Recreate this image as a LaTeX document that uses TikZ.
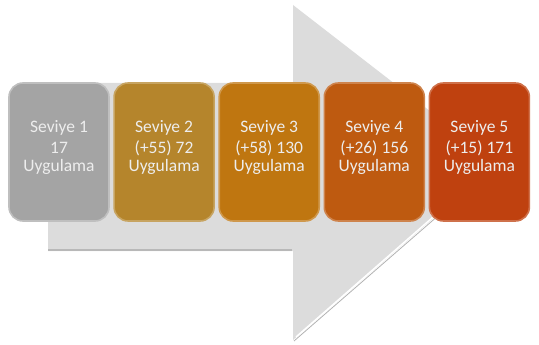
\documentclass[tikz,border=0pt]{standalone}
\usepackage{fontspec}
\setmainfont{Carlito}
\usepackage{xcolor}
\usetikzlibrary{positioning}
\definecolor{lvgray}{HTML}{A4A4A4}
\definecolor{lvgold}{HTML}{B5852C}
\definecolor{lvamber}{HTML}{BF7610}
\definecolor{lvorange}{HTML}{BE5A10}
\definecolor{lvred}{HTML}{BF410F}
\definecolor{shaftgray}{HTML}{DCDCDC}

\begin{document}
\begin{tikzpicture}[x=1pt,y=-1pt,node distance=3.5pt,box/.style={rounded corners=14pt,minimum width=100pt,minimum height=138pt,inner sep=0pt,line width=1.6pt},lbl/.style={align=center,text=white!93!black,font=\fontsize{17.5}{18}\selectfont}]
\useasboundingbox (0,0) rectangle (539,345);
% big arrow behind the boxes
\fill[shaftgray] (48,83)--(293,83)--(293,5)--(497,163)--(293,340)--(293,251)--(48,251)--cycle;
\draw[line width=1.5pt,black!28] (48,250)--(292,250);
\draw[line width=1.5pt,white] (296,337)--(440,211);
\draw[line width=0.8pt,black!30] (294,341)--(439,215);
\node[box,fill=lvgray,draw=lvgray!70!white] (l1) at (59,152) {};
\node[box,fill=lvgold,draw=lvgold!75!white,right=of l1] (l2) {};
\node[box,fill=lvamber,draw=lvamber!75!white,right=of l2] (l3) {};
\node[box,fill=lvorange,draw=lvorange!75!white,right=of l3] (l4) {};
\node[box,fill=lvred,draw=lvred!75!white,right=of l4] (l5) {};
\node[lbl] (t1) at ([yshift=5pt]l1.center) {Seviye 1\\[3pt]17\\Uygulama};
\node[lbl] (t2) at ([yshift=5pt]l2.center) {Seviye 2\\[3pt](+55) 72\\Uygulama};
\node[lbl] (t3) at ([yshift=5pt]l3.center) {Seviye 3\\[3pt](+58) 130\\Uygulama};
\node[lbl] (t4) at ([yshift=5pt]l4.center) {Seviye 4\\[3pt](+26) 156\\Uygulama};
\node[lbl] (t5) at ([yshift=5pt]l5.center) {Seviye 5\\[3pt](+15) 171\\Uygulama};
\end{tikzpicture}
\end{document}
